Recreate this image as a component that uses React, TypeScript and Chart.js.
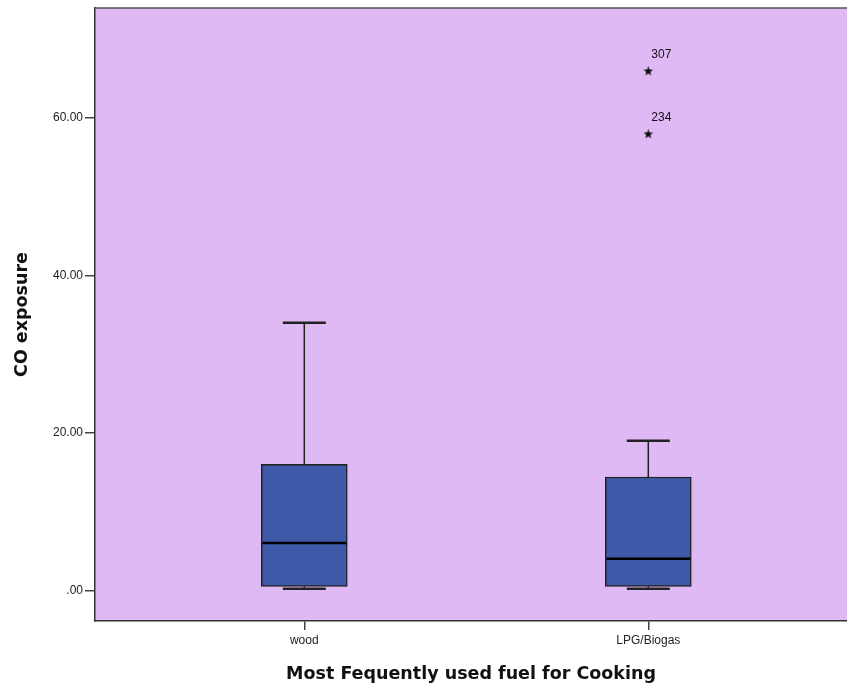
import React, { useEffect, useRef } from "react";
import { Chart, registerables } from "chart.js";

Chart.register(...registerables);

const categories = ["wood", "LPG/Biogas"];
const categoryPositions = [1, 2];
const whiskerLow = [0.2, 0.2];
const quartile1 = [0.5, 0.5];
const medians = [6, 4];
const quartile3 = [16, 14.4];
const whiskerHigh = [34, 19];
const outlierCategory = [2, 2];
const outlierValues = [66, 58];
const outlierLabels = ["307", "234"];
const yTicks = [0, 20, 40, 60];

const PLOT_BG = "#DFB9F3";
const BOX_FILL = "#3D59A8";
const LINE = "#222222";

function makeStar(): HTMLCanvasElement {
  const c = document.createElement("canvas");
  c.width = 11;
  c.height = 11;
  const g = c.getContext("2d")!;
  g.fillStyle = "#111";
  g.beginPath();
  const cx = 5.5, cy = 5.8, R = 5, r = 2.1;
  for (let i = 0; i < 10; i++) {
    const a = -Math.PI / 2 + (i * Math.PI) / 5;
    const rad = i % 2 === 0 ? R : r;
    const px = cx + rad * Math.cos(a);
    const py = cy + rad * Math.sin(a);
    if (i === 0) g.moveTo(px, py);
    else g.lineTo(px, py);
  }
  g.closePath();
  g.fill();
  return c;
}

const bgPlugin = {
  id: "plotBg",
  beforeDraw(chart: any) {
    const { ctx, chartArea } = chart;
    ctx.save();
    ctx.fillStyle = PLOT_BG;
    ctx.fillRect(chartArea.left, chartArea.top, chartArea.right - chartArea.left, chartArea.bottom - chartArea.top);
    ctx.restore();
  },
  afterDraw(chart: any) {
    const { ctx, chartArea } = chart;
    ctx.save();
    ctx.strokeStyle = "#555";
    ctx.lineWidth = 1.5;
    ctx.beginPath();
    ctx.moveTo(chartArea.left, chartArea.top);
    ctx.lineTo(chartArea.right, chartArea.top);
    ctx.stroke();
    ctx.restore();
  },
};

const boxPlugin = {
  id: "boxParts",
  beforeDatasetsDraw(chart: any) {
    const { ctx } = chart;
    const xs = chart.scales.x;
    const ys = chart.scales.y;
    ctx.save();
    ctx.strokeStyle = LINE;
    categoryPositions.forEach((pos, i) => {
      const cx = xs.getPixelForValue(pos);
      const capHalf = xs.getPixelForValue(pos + 0.0625) - cx;
      ctx.lineWidth = 1.5;
      ctx.beginPath();
      ctx.moveTo(cx, ys.getPixelForValue(quartile3[i]));
      ctx.lineTo(cx, ys.getPixelForValue(whiskerHigh[i]));
      ctx.moveTo(cx, ys.getPixelForValue(quartile1[i]));
      ctx.lineTo(cx, ys.getPixelForValue(whiskerLow[i]));
      ctx.stroke();
      ctx.lineWidth = 2.5;
      ctx.beginPath();
      const yh = ys.getPixelForValue(whiskerHigh[i]);
      const yl = ys.getPixelForValue(whiskerLow[i]);
      ctx.moveTo(cx - capHalf, yh);
      ctx.lineTo(cx + capHalf, yh);
      ctx.moveTo(cx - capHalf, yl);
      ctx.lineTo(cx + capHalf, yl);
      ctx.stroke();
    });
    ctx.restore();
  },
  afterDatasetsDraw(chart: any) {
    const { ctx } = chart;
    const xs = chart.scales.x;
    const ys = chart.scales.y;
    ctx.save();
    categoryPositions.forEach((pos, i) => {
      const l = xs.getPixelForValue(pos - 0.125);
      const r = xs.getPixelForValue(pos + 0.125);
      const ym = ys.getPixelForValue(medians[i]);
      ctx.strokeStyle = "#000";
      ctx.lineWidth = 2.5;
      ctx.beginPath();
      ctx.moveTo(l + 1, ym);
      ctx.lineTo(r - 1, ym);
      ctx.stroke();
    });
    ctx.fillStyle = "#111";
    ctx.font = "12px 'Liberation Sans', Arial, sans-serif";
    ctx.textAlign = "left";
    ctx.textBaseline = "middle";
    outlierValues.forEach((v, i) => {
      const px = xs.getPixelForValue(outlierCategory[i]);
      const py = ys.getPixelForValue(v);
      ctx.fillText(outlierLabels[i], px + 3, py - 16);
    });
    ctx.restore();
  },
};

export default function App() {
  const ref = useRef<HTMLCanvasElement>(null);
  useEffect(() => {
    document.body.style.margin = "0";
    const star = makeStar();
    const chart = new Chart(ref.current!, {
      type: "bar",
      data: {
        datasets: [
          {
            type: "bar",
            data: categoryPositions.map((p, i) => ({ x: p, y: [quartile1[i], quartile3[i]] })) as any,
            backgroundColor: BOX_FILL,
            borderColor: LINE,
            borderWidth: 1.5,
            borderSkipped: false,
            barThickness: 86,
            grouped: false,
          } as any,
          {
            type: "scatter",
            data: outlierValues.map((v, i) => ({ x: outlierCategory[i], y: v })),
            pointStyle: star as any,
            pointRadius: 5,
          } as any,
        ],
      },
      options: {
        animation: false,
        responsive: false,
        maintainAspectRatio: false,
        layout: { autoPadding: false, padding: { left: 0, right: 0, top: 8, bottom: 0 } },
        plugins: { legend: { display: false }, tooltip: { enabled: false } },
        scales: {
          x: {
            type: "linear",
            offset: false,
            min: 0.3916,
            max: 2.5776,
            afterBuildTicks: (s: any) => {
              s.ticks = categoryPositions.map((v) => ({ value: v }));
            },
            afterFit: (s: any) => {
              s.height = 67;
              s.paddingRight = 0;
              s.paddingLeft = 0;
            },
            ticks: {
              autoSkip: false,
              maxRotation: 0,
              padding: 3,
              color: "#222",
              font: { family: "'Liberation Sans', Arial, sans-serif", size: 12 },
              callback: (v: any) => {
                const idx = categoryPositions.indexOf(Number(v));
                return idx >= 0 ? categories[idx] : "";
              },
            },
            grid: { offset: false, drawOnChartArea: false, drawTicks: true, tickLength: 9, color: "#444", lineWidth: 1.5 },
            border: { display: true, color: "#333", width: 1.5 },
            title: {
              display: true,
              text: "Most Fequently used fuel for Cooking",
              color: "#111",
              font: { family: "'DejaVu Sans', Verdana, sans-serif", size: 17.5, weight: "bold" },
              padding: { top: 0, bottom: 3 },
            },
          },
          y: {
            type: "linear",
            min: -3.9,
            max: 74,
            afterBuildTicks: (s: any) => {
              s.ticks = yTicks.map((v) => ({ value: v }));
            },
            afterFit: (s: any) => {
              s.width = 95;
              s.paddingTop = 0;
              s.paddingBottom = 0;
            },
            ticks: {
              padding: 2,
              color: "#222",
              font: { family: "'Liberation Sans', Arial, sans-serif", size: 12 },
              callback: (v: any) => (Number(v) === 0 ? ".00" : Number(v).toFixed(2)),
            },
            grid: { drawOnChartArea: false, drawTicks: true, tickLength: 10, color: "#444", lineWidth: 1.5 },
            border: { display: true, color: "#333", width: 1.5 },
            title: {
              display: true,
              text: "CO exposure",
              color: "#111",
              font: { family: "'DejaVu Sans', Verdana, sans-serif", size: 17.5, weight: "bold" },
              padding: { top: 12, bottom: 0 },
            },
          },
        },
      },
      plugins: [bgPlugin, boxPlugin],
    });
    return () => chart.destroy();
  }, []);
  return (
    <div style={{ position: "fixed", left: 0, top: 0, width: 847, height: 688, background: "#fff" }}>
      <canvas ref={ref} width={847} height={688} style={{ display: "block" }} />
    </div>
  );
}
